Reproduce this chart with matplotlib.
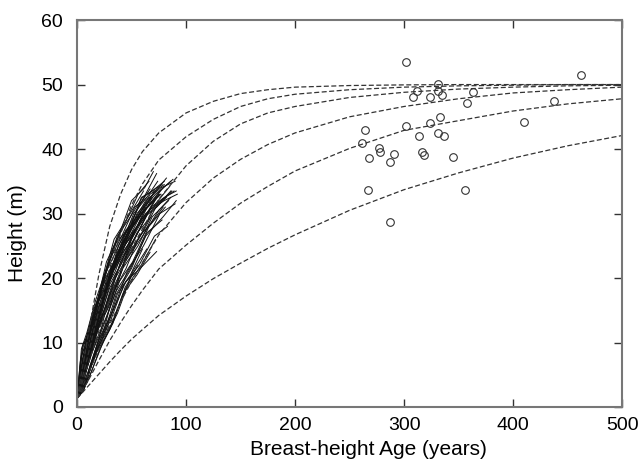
import numpy as np
import matplotlib
matplotlib.use("Agg")
import matplotlib.pyplot as plt

plt.rcParams['font.family'] = ['Liberation Sans', 'DejaVu Sans']

# ---------------------------
# DATA
# ---------------------------
# dashed site curves
curve_age = [0, 10, 20, 30, 40, 50, 60, 75, 100, 125, 150, 175, 200, 250, 300, 350, 400, 450, 500]
curve_1 = [1.3, 11.0, 20.5, 28.0, 33.0, 36.8, 39.6, 42.5, 45.6, 47.4, 48.6, 49.2, 49.6, 49.85, 49.95, 50.0, 50.0, 50.0, 50.0]
curve_2 = [1.3, 8.0, 15.0, 21.5, 26.9, 31.3, 34.6, 38.3, 41.9, 44.6, 46.6, 47.8, 48.5, 49.2, 49.6, 49.8, 49.9, 50.0, 50.0]
curve_3 = [1.3, 6.5, 11.8, 16.8, 21.0, 24.6, 27.6, 32.2, 37.4, 41.2, 43.9, 45.6, 46.6, 48.0, 48.8, 49.3, 49.6, 49.8, 49.9]
curve_4 = [1.3, 5.0, 9.0, 12.8, 16.3, 19.5, 22.4, 26.7, 31.7, 35.5, 38.4, 40.7, 42.5, 45.0, 46.6, 47.8, 48.7, 49.2, 49.6]
curve_5 = [1.3, 4.0, 7.2, 10.3, 13.1, 15.7, 18.1, 21.4, 25.1, 28.5, 31.6, 34.2, 36.6, 40.1, 42.9, 44.4, 45.9, 47.0, 47.8]
curve_6 = [1.3, 3.2, 5.1, 7.0, 8.8, 10.5, 12.0, 14.2, 17.2, 19.9, 22.3, 24.6, 26.7, 30.5, 33.7, 36.3, 38.6, 40.5, 42.1]
curves = [curve_1, curve_2, curve_3, curve_4, curve_5, curve_6]

# stem analysis trajectories (age, height)
tree_ages = [
    [0, 6, 14, 25, 38, 52, 66, 73],
    [0, 8, 17, 29, 41, 55, 70, 82],
    [0, 7, 15, 27, 40, 54, 68, 80, 91],
    [0, 10, 20, 33, 45, 58, 73],
    [0, 5, 12, 22, 35, 48, 62, 76, 88],
    [0, 6, 16, 28, 43, 57, 70],
    [0, 9, 18, 30, 44, 60, 75, 86],
    [0, 4, 10, 20, 32, 45, 58, 71],
    [0, 7, 14, 24, 36, 49, 63, 77, 90],
    [0, 12, 24, 36, 50, 64, 78],
    [0, 5, 13, 21, 31, 43, 56, 67],
    [0, 8, 19, 31, 46, 61, 76, 90],
    [0, 6, 13, 22, 34, 47, 61],
    [0, 10, 22, 35, 50, 66, 80, 92],
    [0, 4, 11, 19, 28, 39, 52, 64, 74],
    [0, 9, 20, 32, 45, 59, 72],
    [0, 6, 15, 26, 38, 52, 65, 79],
    [0, 11, 21, 33, 46, 60, 74, 87],
    [0, 5, 12, 23, 36, 50, 64, 76],
    [0, 7, 17, 29, 42, 56, 69, 84],
    [0, 3, 9, 18, 29, 41, 53, 64],
    [0, 8, 18, 27, 39, 51, 66, 81],
    [0, 6, 14, 24, 35, 47, 59, 72, 86],
    [0, 10, 19, 30, 42, 55, 68],
    [0, 5, 15, 25, 37, 50, 63, 77, 89],
    [0, 7, 16, 26, 37, 49, 60],
    [0, 9, 21, 34, 48, 62, 77],
    [0, 4, 12, 22, 33, 46, 58, 70, 82],
    [0, 8, 16, 25, 35, 46, 57, 69],
    [0, 6, 18, 31, 44, 58, 72, 85],
    [0, 3, 8, 15, 24, 34, 45, 55],
    [0, 11, 23, 36, 49, 63, 79, 91],
    [0, 5, 11, 20, 30, 41, 52],
    [0, 7, 17, 28, 40, 53, 67, 80],
    [0, 6, 13, 21, 30, 40, 51, 63, 75],
    [0, 9, 19, 28, 40, 54, 68],
    [0, 4, 10, 18, 27, 38, 50, 62, 70],
    [0, 8, 20, 31, 43, 57, 71, 83],
    [0, 5, 14, 24, 36, 48, 60, 73, 86],
    [0, 10, 22, 33, 47, 62],
    [0, 8, 18, 30, 42, 55, 67],
    [0, 10, 21, 33, 44, 56],
    [0, 3, 7, 14, 23, 33, 44, 56, 66],
    [0, 6, 12, 20, 29, 39, 50, 62, 71],
    [0, 4, 9, 17, 26, 37, 49, 60, 78],
    [0, 12, 25, 37, 51, 64],
    [0, 5, 10, 18, 27, 37, 48, 59, 69, 80],
    [0, 7, 15, 24, 34, 45, 57, 68, 79],
]
tree_heights = [
    [1.3, 5, 11.5, 17.5, 25, 29.5, 34, 36.2],
    [1.3, 6.5, 11.5, 19.5, 24, 30, 33, 35.5],
    [1.3, 4.5, 10.5, 16, 22.5, 26.5, 31, 32.5, 33.5],
    [1.3, 5, 10.5, 15, 19.5, 21.5, 24.1],
    [1.3, 7.5, 12, 17.5, 22.5, 27.5, 30.5, 33.5, 35.3],
    [1.3, 5.5, 13.5, 19.5, 26.5, 30, 33],
    [1.3, 6, 11.5, 16.5, 22.5, 26.5, 30.5, 32.5],
    [1.3, 8, 10.5, 16.5, 21, 26.5, 29.5, 33.5],
    [1.3, 7, 14, 19.5, 25.5, 28, 32, 34, 35],
    [1.3, 6, 11, 17.5, 21.5, 27, 29],
    [1.3, 3.5, 9.5, 14.5, 21.5, 25.5, 31, 33.8],
    [1.3, 4, 10, 14, 21, 25, 30, 31.5],
    [1.3, 6.5, 12.5, 18.5, 26, 29.5, 33.5],
    [1.3, 7, 13.5, 20.5, 25, 30.5, 32, 33],
    [1.3, 4, 9, 13.5, 20.5, 24.5, 30, 32.5, 35],
    [1.3, 4.5, 9.5, 13, 18.5, 22, 26],
    [1.3, 8, 13.5, 20, 23.5, 28.5, 31, 34],
    [1.3, 8, 13.5, 18, 23.5, 27, 31.5, 33.5],
    [1.3, 9, 12.5, 18.5, 23, 28.5, 31, 33],
    [1.3, 5, 11.5, 15.5, 21.5, 25, 29.5, 32],
    [1.3, 5, 10.5, 15.5, 22.5, 26.5, 31, 32.5],
    [1.3, 5.5, 10.5, 14, 19.5, 22.5, 28, 31],
    [1.3, 4.5, 11, 16.5, 23, 26.5, 30.5, 33, 35],
    [1.3, 9, 13, 18.5, 22, 27, 29.5],
    [1.3, 6, 13.5, 18, 23.5, 26.5, 30, 32, 33.5],
    [1.3, 3, 8, 11.5, 17.5, 20.5, 24.5],
    [1.3, 10.5, 15.5, 21.5, 25.5, 30.5, 33],
    [1.3, 3.5, 10, 15, 21, 24.5, 29, 30.5, 32.5],
    [1.3, 7.5, 12.5, 18, 21, 26, 28.5, 32.5],
    [1.3, 4, 11.5, 16.5, 22.5, 26.5, 31.5, 34.2],
    [1.3, 4.5, 9.5, 13.5, 20, 23.5, 27.5, 29],
    [1.3, 7.5, 12, 18, 21.5, 26.5, 29.5, 32],
    [1.3, 9.5, 11.5, 16.5, 19.5, 24.5, 27],
    [1.3, 6.5, 13.5, 18.5, 25, 28.5, 33, 34.5],
    [1.3, 5, 10, 13.5, 19, 22, 27, 29.5, 33],
    [1.3, 6, 12, 16, 22.5, 26.5, 31],
    [1.3, 6, 11.5, 16, 22.5, 26.5, 32, 34, 36.5],
    [1.3, 4.5, 10, 13.5, 19, 22, 26.5, 28],
    [1.3, 5.5, 12.5, 17, 22.5, 25.5, 29.5, 31, 33.5],
    [1.3, 8.5, 15, 21.5, 26, 31],
    [1.3, 4, 8.5, 12, 17.5, 20.5, 24],
    [1.3, 4, 9, 13, 18.5, 22],
    [1.3, 7, 9.5, 14.5, 18.5, 24.5, 28.5, 33, 35],
    [1.3, 2.5, 6.5, 10.5, 17, 20.5, 26, 29.5, 32],
    [1.3, 9, 11.5, 16.5, 21, 26.5, 29.5, 32.5, 34.5],
    [1.3, 5, 10.5, 14.5, 21, 24.5],
    [1.3, 5.5, 8.5, 14.5, 18.5, 24, 27.5, 32.5, 33.5, 35],
    [1.3, 3, 7.5, 11.5, 18, 21.5, 26.5, 28.5, 31],
]

# old trees (circles)
old_age = [301.5, 330.9, 311.6, 330.9, 335.2, 308.3, 323.6, 363.0, 358.1, 333.0,
           323.6, 301.5, 264.2, 330.9, 337.0, 314.0, 261.2, 277.3, 278.3, 290.6,
           316.5, 318.6, 344.7, 268.2, 287.4, 267.3, 356.0, 287.4, 410.4, 437.6,
           462.1]
old_height = [53.5, 50.1, 49.0, 49.0, 48.4, 48.0, 48.0, 48.8, 47.1, 45.0,
              44.0, 43.5, 42.9, 42.5, 42.0, 42.0, 41.0, 40.1, 39.6, 39.2,
              39.5, 39.0, 38.8, 38.6, 38.0, 33.7, 33.7, 28.7, 44.2, 47.5,
              51.5]

# ---------------------------
# PLOT
# ---------------------------
fig = plt.figure(figsize=(6.44, 4.67), dpi=100)
ax = fig.add_axes([0.1196, 0.1285, 0.8464, 0.8285])

for ages, heights in zip(tree_ages, tree_heights):
    ax.plot(ages, heights, color="#111111", lw=0.7)

for c in curves:
    ax.plot(curve_age, c, color="#333333", lw=0.9, linestyle=(0, (4, 2)))

ax.plot(old_age, old_height, "o", ms=5.5, mfc="none", mec="#333333", mew=0.8)

ax.set_xlim(0, 500)
ax.set_ylim(0, 60)
ax.set_xticks([0, 100, 200, 300, 400, 500])
ax.set_yticks([0, 10, 20, 30, 40, 50, 60])
ax.tick_params(direction="in", top=True, right=True, length=6, width=1,
               color="#333333", labelsize=14)
ax.tick_params(axis="x", pad=7)
ax.tick_params(axis="y", pad=10)
for s in ax.spines.values():
    s.set_color("#777777")
    s.set_linewidth(1.5)

ax.set_xlabel("Breast-height Age (years)", fontsize=15)
ax.set_ylabel("Height (m)", fontsize=15)
ax.xaxis.set_label_coords(0.534, -0.085)
ax.yaxis.set_label_coords(-0.092, 0.45)

fig.savefig("out.png", dpi=100)
